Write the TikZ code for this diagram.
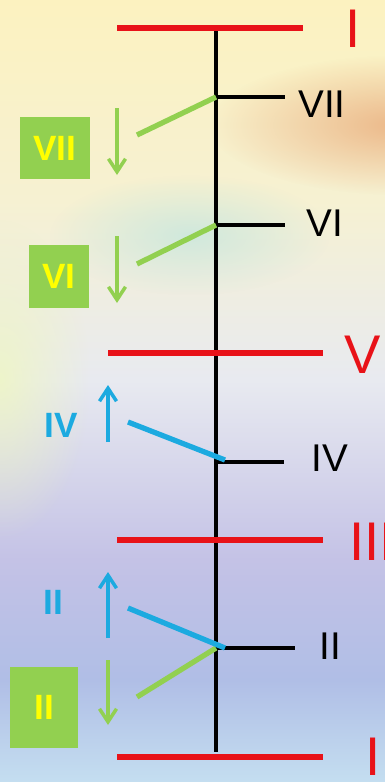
\documentclass[tikz,border=0pt]{standalone}
\usepackage{fontspec}
\setmainfont{Liberation Sans}
\usetikzlibrary{arrows.meta,fadings}
\definecolor{lvred}{RGB}{232,18,24}
\definecolor{lvgreen}{RGB}{146,208,80}
\definecolor{lvblue}{RGB}{28,170,224}
\definecolor{lvyellow}{RGB}{255,255,0}
\definecolor{skyA}{RGB}{252,242,192}
\definecolor{skyB}{RGB}{246,241,210}
\definecolor{skyC}{RGB}{232,234,240}
\definecolor{skyD}{RGB}{196,194,230}
\definecolor{skyE}{RGB}{176,190,230}
\definecolor{skyF}{RGB}{196,222,240}
\definecolor{skyOrange}{RGB}{232,165,115}
\definecolor{skyTeal}{RGB}{196,230,222}
\definecolor{skyLime}{RGB}{240,248,190}
\tikzfading[name=softspot,inner color=transparent!25,outer color=transparent!100]
\begin{document}
\begin{tikzpicture}[x=0.02cm,y=-0.02cm,
  redlevel/.style={lvred,line width=3.6pt},
  blacktick/.style={line width=2.6pt},
  greenlink/.style={lvgreen,line width=3pt},
  bluelink/.style={lvblue,line width=3pt},
  greenarrow/.style={lvgreen,line width=2pt,-{Straight Barb[length=0.26cm,width=0.34cm]}},
  bluearrow/.style={lvblue,line width=2pt,-{Straight Barb[length=0.26cm,width=0.34cm]}},
  redlab/.style={lvred,inner sep=0pt,font=\fontsize{31}{34}\selectfont},
  blacklab/.style={inner sep=0pt,font=\fontsize{22}{26}\selectfont},
  bluelab/.style={lvblue,inner sep=0pt,font=\bfseries\fontsize{20}{24}\selectfont},
  greenbox/.style={fill=lvgreen,text=lvyellow,inner sep=0pt,font=\bfseries\fontsize{20}{24}\selectfont}]
\useasboundingbox (0,0) rectangle (385,782);
% background
\shade[top color=skyA,bottom color=skyB] (0,0) rectangle (385,200);
\shade[top color=skyB,bottom color=skyC] (0,200) rectangle (385,380);
\shade[top color=skyC,bottom color=skyD] (0,380) rectangle (385,560);
\shade[top color=skyD,bottom color=skyE] (0,560) rectangle (385,680);
\shade[top color=skyE,bottom color=skyF] (0,680) rectangle (385,782);
\fill[skyOrange,path fading=softspot] (400,125) ellipse (190 and 70);
\fill[skyTeal,path fading=softspot] (190,235) ellipse (140 and 60);
\fill[skyLime,path fading=softspot] (0,380) ellipse (90 and 160);
% axis
\coordinate (a0) at (216,30);
\coordinate (a1) at (216,752);
\draw[line width=2.6pt] (a0) -- (a1);
% red levels
\coordinate (r1w) at (117,28); \coordinate (r1e) at (303,28);
\coordinate (r5w) at (108,353); \coordinate (r5e) at (323,353);
\coordinate (r3w) at (117,540); \coordinate (r3e) at (323,540);
\coordinate (r0w) at (117,757); \coordinate (r0e) at (323,757);
\draw[redlevel] (r1w) -- (r1e);
\draw[redlevel] (r5w) -- (r5e);
\draw[redlevel] (r3w) -- (r3e);
\draw[redlevel] (r0w) -- (r0e);
\node[redlab] (lvI) at (353,29) {I};
\node[redlab] (lvV) at (363,355) {V};
\node[redlab,anchor=west] (lvIII) at (349,542) {III};
\node[redlab] (lvIb) at (373,757) {I};
% black ticks
\coordinate (k7) at (216,97); \coordinate (k7e) at (285,97);
\coordinate (k6) at (216,225); \coordinate (k6e) at (285,225);
\coordinate (k4) at (216,462); \coordinate (k4e) at (284,462);
\coordinate (k2) at (216,648); \coordinate (k2e) at (295,648);
\draw[blacktick] (k7) -- (k7e);
\draw[blacktick] (k6) -- (k6e);
\draw[blacktick] (k4) -- (k4e);
\draw[blacktick] (k2) -- (k2e);
\node[blacklab] (t7) at (322,104) {VII};
\node[blacklab] (t6) at (325,223) {VI};
\node[blacklab] (t4) at (330,458) {IV};
\node[blacklab] (t2) at (330,646) {II};
% green links and arrows
\coordinate (g7) at (137,135);
\coordinate (g6) at (137,264);
\coordinate (g2) at (137,697);
\draw[greenlink] (k7) -- (g7);
\draw[greenlink] (k6) -- (g6);
\draw[greenlink] (k2) -- (g2);
\coordinate (ga7) at (117,108); \coordinate (gb7) at (117,175);
\coordinate (ga6) at (117,236); \coordinate (gb6) at (117,303);
\coordinate (ga2) at (108,660); \coordinate (gb2) at (108,725);
\draw[greenarrow] (ga7) -- (gb7);
\draw[greenarrow] (ga6) -- (gb6);
\draw[greenarrow] (ga2) -- (gb2);
\node[greenbox,minimum width=1.4cm,minimum height=1.26cm] (b7) at (55,148) {VII};
\node[greenbox,minimum width=1.2cm,minimum height=1.26cm] (b6) at (59,276) {VI};
\node[greenbox,minimum width=1.36cm,minimum height=1.62cm] (b2) at (44,707) {II};
% blue links and arrows
\coordinate (c4) at (128,422); \coordinate (c4e) at (225,460);
\coordinate (c2) at (128,608); \coordinate (c2e) at (225,648);
\draw[bluelink] (c4) -- (c4e);
\draw[bluelink] (c2) -- (c2e);
\coordinate (ua4) at (108,442); \coordinate (ub4) at (108,385);
\coordinate (ua2) at (108,638); \coordinate (ub2) at (108,572);
\draw[bluearrow] (ua4) -- (ub4);
\draw[bluearrow] (ua2) -- (ub2);
\node[bluelab] (u4) at (61,425) {IV};
\node[bluelab] (u2) at (53,602) {II};
\end{tikzpicture}
\end{document}
